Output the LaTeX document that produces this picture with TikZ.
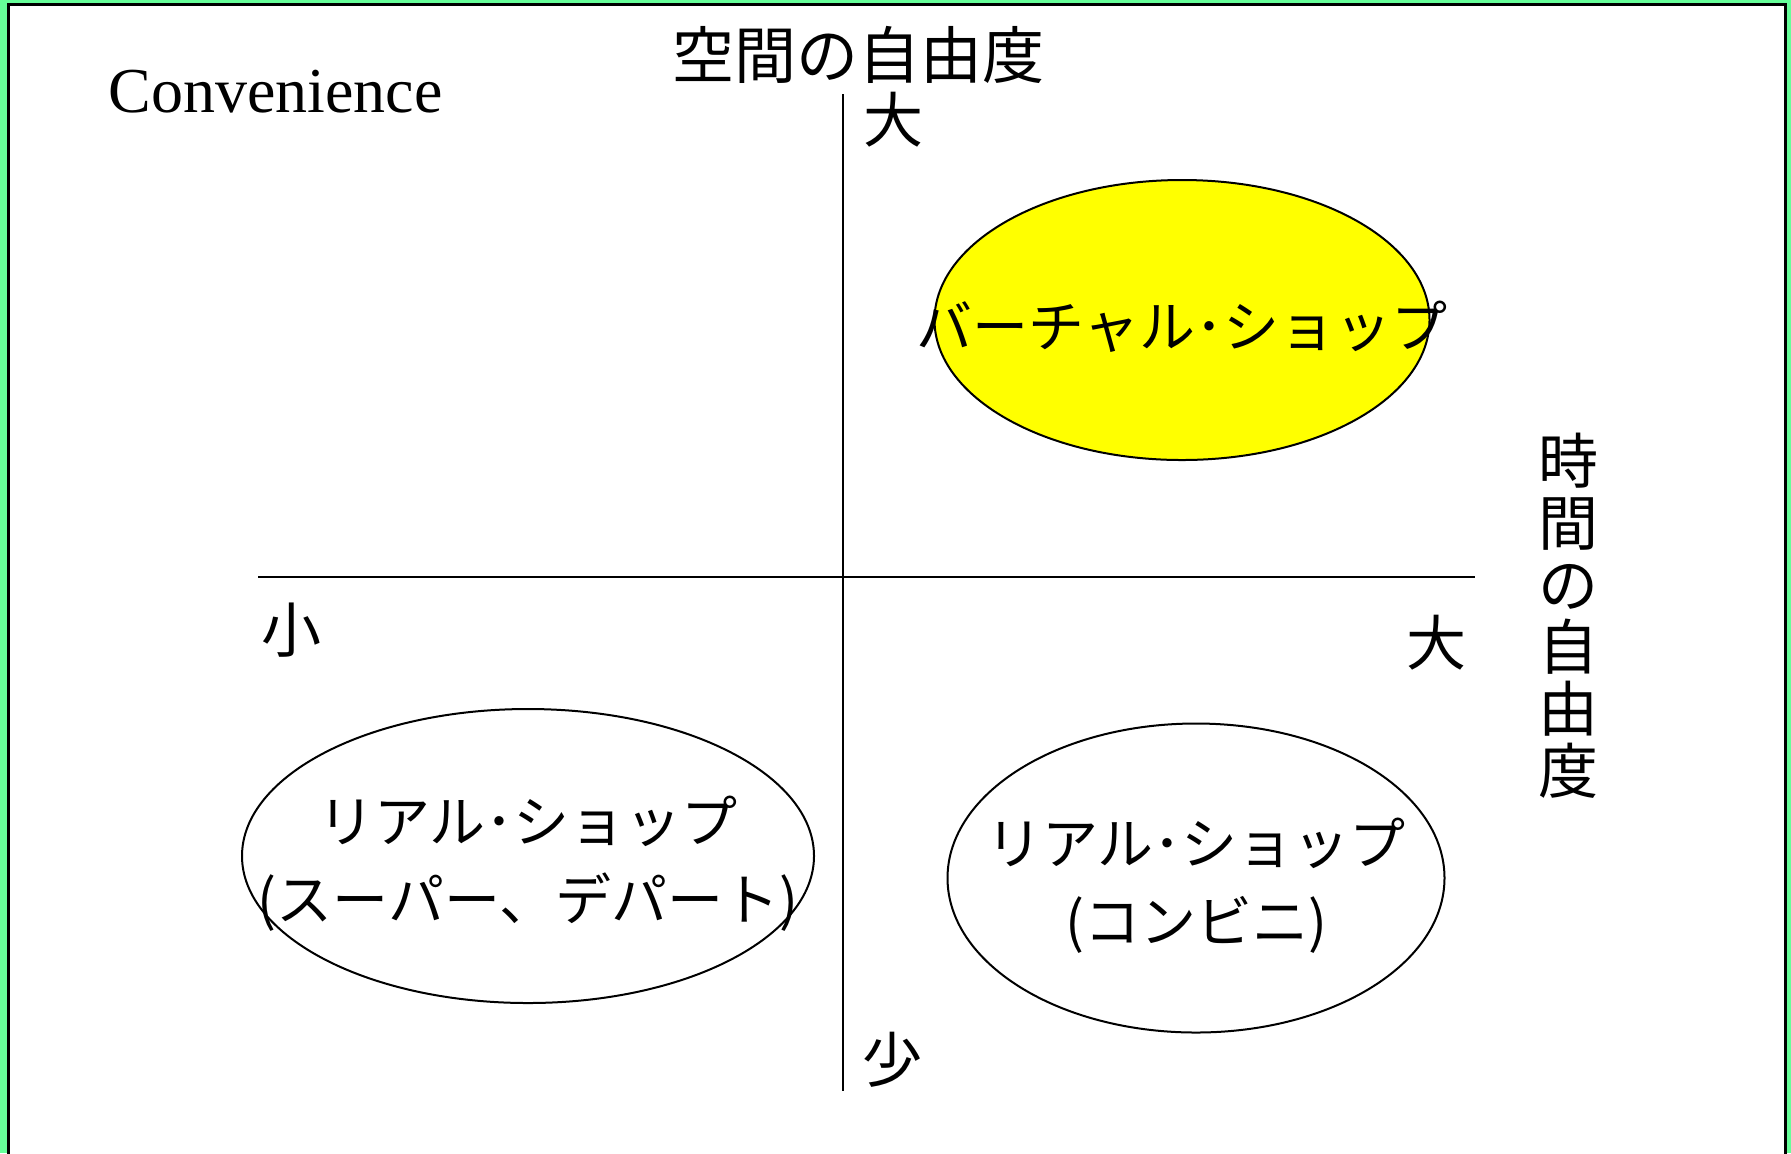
\documentclass[tikz,border=0pt]{standalone}
\usepackage{fontspec}
\setmainfont{Liberation Serif}
\newfontfamily\jpfont{Noto Sans CJK JP}
\usetikzlibrary{shapes.geometric, positioning}
\definecolor{framegreen}{HTML}{66FF99}
\definecolor{shopyellow}{HTML}{FFFF00}

\begin{document}
\begin{tikzpicture}[x=0.5pt, y=-0.5pt,
    shop/.style={ellipse, draw, line width=1pt, inner sep=0pt},
    jp/.style={font=\jpfont\fontsize{28}{39}\selectfont, align=center},
    axislabel/.style={font=\jpfont\fontsize{30}{31}\selectfont, inner sep=0pt, align=center}]
    \clip (0,0) rectangle (1791,1153);
    \fill [framegreen] (0,0) rectangle (1791,1153);
    \draw [fill=white, line width=1.5pt] (8,4) rectangle (1785,1170);

    % axes
    \coordinate (top) at (843,94);
    \coordinate (bottom) at (843,1091);
    \coordinate (left) at (258,577);
    \coordinate (right) at (1475,577);
    \draw [line width=1pt] (top) -- (bottom);
    \draw [line width=1pt] (left) -- (right);

    \node [font=\fontsize{32}{38}\selectfont, anchor=west, inner sep=0pt] (conv) at (108,92) {Convenience};
    \node [axislabel, font=\jpfont\fontsize{31}{31}\selectfont] (space) at (858,55) {空間の自由度};
    \node [axislabel] (time) at (1568,616) {時\\間\\の\\自\\由\\度};
    \node [axislabel] (spacebig) at (893,120) {大};
    \node [axislabel] (spacesmall) at (892,1060) {少};
    \node [axislabel] (timesmall) at (291,630) {小};
    \node [axislabel] (timebig) at (1436,643) {大};

    % shops
    \node [shop, fill=shopyellow, minimum width=247.5pt, minimum height=140pt] (virtual) at (1182,320) {};
    \node [jp] (virtualtext) at (1182,327) {バーチャル･ショップ};
    \node [shop, minimum width=286pt, minimum height=147pt] (super) at (528,856) {};
    \node [jp] (supertext) at (528,864) {リアル･ショップ\\(スーパー、デパート)};
    \node [shop, minimum width=248.5pt, minimum height=154.5pt] (conbini) at (1196,878) {};
    \node [jp] (conbinitext) at (1196,886) {リアル･ショップ\\(コンビニ)};
\end{tikzpicture}
\end{document}
